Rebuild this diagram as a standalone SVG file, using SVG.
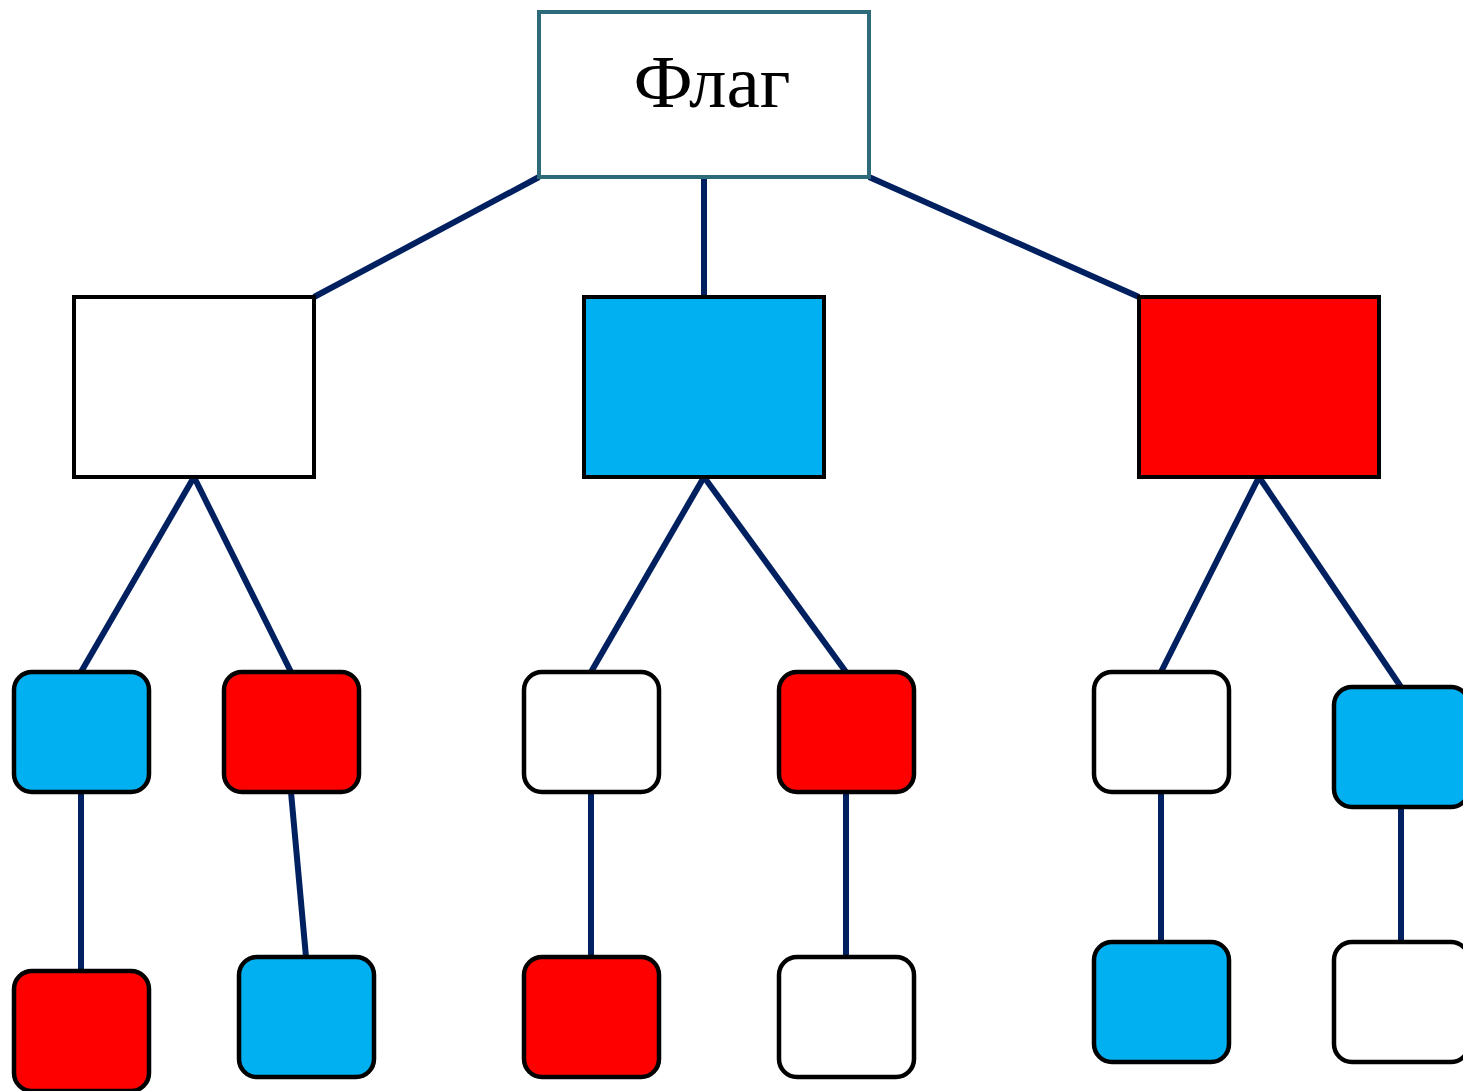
<svg xmlns="http://www.w3.org/2000/svg" width="1463" height="1091" viewBox="0 0 1463 1091">
  <style>
    .edge { stroke: #002060; stroke-width: 6; fill: none; }
    .root { fill: #ffffff; stroke: #2e6b7a; stroke-width: 4; }
    .box { stroke: #000000; stroke-width: 4; }
    .tile { stroke: #000000; stroke-width: 4.5; }
    .white { fill: #ffffff; }
    .blue { fill: #00b0f0; }
    .red { fill: #ff0000; }
    .label { font-family: "Liberation Serif", "Times New Roman", serif; font-size: 75px; fill: #000000; }
  </style>
  <rect width="1463" height="1091" fill="#ffffff"/>

  <g id="connectors">
    <line class="edge" x1="539" y1="177" x2="314" y2="297"/>
    <line class="edge" x1="704" y1="177" x2="704" y2="297"/>
    <line class="edge" x1="869" y1="177" x2="1139" y2="297"/>
    <line class="edge" x1="194" y1="477" x2="81" y2="672"/>
    <line class="edge" x1="194" y1="477" x2="291" y2="672"/>
    <line class="edge" x1="704" y1="477" x2="591" y2="672"/>
    <line class="edge" x1="704" y1="477" x2="846" y2="672"/>
    <line class="edge" x1="1259" y1="477" x2="1161" y2="672"/>
    <line class="edge" x1="1259" y1="477" x2="1401" y2="687"/>
    <line class="edge" x1="81" y1="792" x2="81" y2="971"/>
    <line class="edge" x1="291" y1="792" x2="306" y2="957"/>
    <line class="edge" x1="591" y1="792" x2="591" y2="957"/>
    <line class="edge" x1="846" y1="792" x2="846" y2="957"/>
    <line class="edge" x1="1161" y1="792" x2="1161" y2="942"/>
    <line class="edge" x1="1401" y1="807" x2="1401" y2="942"/>
  </g>

  <g id="flag">
    <rect class="root" x="539" y="12" width="330" height="165"/>
    <text class="label" x="712" y="107" text-anchor="middle">Флаг</text>
  </g>

  <g id="stripe-white">
    <rect class="box white" x="74" y="297" width="240" height="180"/>
  </g>
  <g id="stripe-blue">
    <rect class="box blue" x="584" y="297" width="240" height="180"/>
  </g>
  <g id="stripe-red">
    <rect class="box red" x="1139" y="297" width="240" height="180"/>
  </g>

  <g id="w-blue"><rect class="tile blue" x="14" y="672" width="135" height="120" rx="18"/></g>
  <g id="w-red"><rect class="tile red" x="224" y="672" width="135" height="120" rx="18"/></g>
  <g id="b-white"><rect class="tile white" x="524" y="672" width="135" height="120" rx="18"/></g>
  <g id="b-red"><rect class="tile red" x="779" y="672" width="135" height="120" rx="18"/></g>
  <g id="r-white"><rect class="tile white" x="1094" y="672" width="135" height="120" rx="18"/></g>
  <g id="r-blue"><rect class="tile blue" x="1334" y="687" width="135" height="120" rx="18"/></g>

  <g id="w-blue-red"><rect class="tile red" x="14" y="971" width="135" height="120" rx="18"/></g>
  <g id="w-red-blue"><rect class="tile blue" x="239" y="957" width="135" height="120" rx="18"/></g>
  <g id="b-white-red"><rect class="tile red" x="524" y="957" width="135" height="120" rx="18"/></g>
  <g id="b-red-white"><rect class="tile white" x="779" y="957" width="135" height="120" rx="18"/></g>
  <g id="r-white-blue"><rect class="tile blue" x="1094" y="942" width="135" height="120" rx="18"/></g>
  <g id="r-blue-white"><rect class="tile white" x="1334" y="942" width="135" height="120" rx="18"/></g>
</svg>
